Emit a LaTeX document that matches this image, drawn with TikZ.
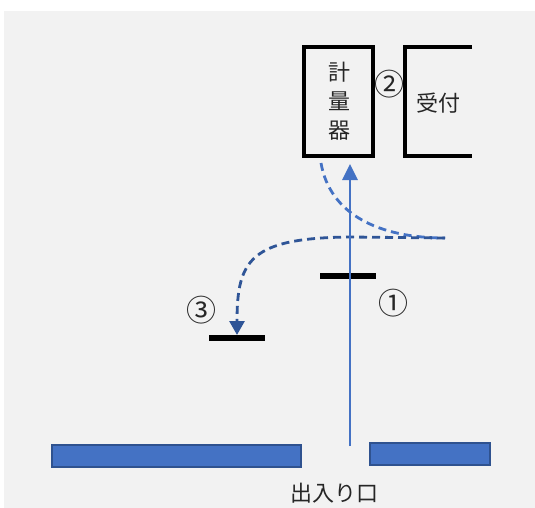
\documentclass[tikz,border=0pt]{standalone}
\usepackage{fontspec}
\setmainfont{Noto Sans CJK JP}
\usetikzlibrary{arrows.meta}
\definecolor{bg}{HTML}{F2F2F2}
\definecolor{mblue}{HTML}{4472C4}
\definecolor{dblue}{HTML}{2F5597}
\definecolor{eblue}{HTML}{2F528F}
\tikzset{
  lbl/.style={font=\fontsize{22pt}{29pt}\selectfont, text=black!85, inner sep=0pt},
  num/.style={font=\fontsize{30pt}{32pt}\selectfont, text=black!85, inner sep=0pt},
  boxline/.style={line width=4pt, black},
  barbox/.style={minimum width=56pt, minimum height=6pt, fill=black, inner sep=0pt},
  wall/.style={fill=mblue, draw=eblue, line width=1.8pt},
  dashA/.style={mblue, line width=2.8pt, dash pattern=on 8pt off 5pt},
  dashB/.style={dblue, line width=2.8pt, dash pattern=on 8pt off 5pt},
}
\begin{document}
\begin{tikzpicture}[x=1pt,y=-1pt]
\useasboundingbox (0,0) rectangle (535,508);
\fill[white] (0,0) rectangle (535,508);
\fill[bg] (4,11) rectangle (535,508);
% weighing machine
\node[draw, boxline, minimum width=69pt, minimum height=109pt, inner sep=0pt] (meter) at (338.5,101.5) {};
\node[lbl, align=center] (metertxt) at (339,101) {計\\量\\器};
% reception (open on right)
\node[minimum width=67pt, minimum height=109pt, inner sep=0pt] (recep) at (438.5,101.5) {};
\draw[boxline] (recep.north east) -- (recep.north west) -- (recep.south west) -- (recep.south east);
\node[lbl] (receptxt) at (438,103) {受付};
\node[num] (n2) at (389,84) {②};
% walls
\node[wall, minimum width=249pt, minimum height=22pt, inner sep=0pt] (wallL) at (176.5,456) {};
\node[wall, minimum width=120pt, minimum height=22pt, inner sep=0pt] (wallR) at (430,454) {};
\node[lbl] (door) at (334,493) {出入り口};
% bars
\node[barbox] (bar1) at (347.5,276) {};
\node[barbox] (bar3) at (236.5,338) {};
\node[num] (n1) at (393,303) {①};
\node[num] (n3) at (201,310) {③};
% paths
\coordinate (entry) at (350,446);
\coordinate (mtop) at (350,164);
\coordinate (mstart) at (321,163);
\coordinate (rend) at (445,238);
\coordinate (mid) at (350,237);
\coordinate (tip) at (237,335);
\draw[dashA] (mstart) .. controls (330,215) and (380,238) .. (rend);
\draw[dashB, -{Triangle[length=14pt,width=15pt]}] (rend) -- (mid) .. controls (250,238) and (237,260) .. (tip);
\draw[mblue, line width=2.8pt, -{Triangle[length=16pt,width=15pt]}] (entry) -- (mtop);
\end{tikzpicture}
\end{document}
